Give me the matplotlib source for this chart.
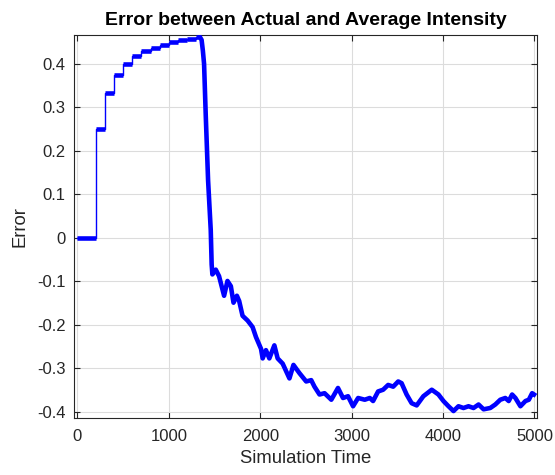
from matplotlib import pyplot as plt

# step phase: level held over each interval [start, end)
step_start = [0, 200, 300, 400, 500, 600, 700, 800, 900, 1000, 1100, 1200, 1300]
step_end = [200, 300, 400, 500, 600, 700, 800, 900, 1000, 1100, 1200, 1300, 1340]
step_level = [0, 0.25, 0.333, 0.375, 0.4, 0.417, 0.429, 0.4375, 0.444, 0.45, 0.4545, 0.458, 0.4615]

# drop + noisy tail
tail_t = [1340, 1358, 1372, 1385, 1403, 1429, 1458, 1468, 1476, 1513, 1549, 1604, 1641,
          1678, 1707, 1744, 1769, 1806, 1861, 1916, 1953, 2008, 2026, 2062, 2099, 2154,
          2190, 2245, 2319, 2363, 2429, 2502, 2557, 2593, 2648, 2703, 2777, 2850, 2905,
          2960, 3015, 3070, 3143, 3198, 3234, 3289, 3344, 3399, 3454, 3509, 3546, 3601,
          3656, 3711, 3784, 3876, 3949, 4004, 4059, 4114, 4168, 4223, 4278, 4333, 4388,
          4443, 4516, 4571, 4626, 4681, 4718, 4755, 4791, 4846, 4901, 4938, 4974, 4995]
tail_err = [0.4615, 0.455, 0.43, 0.40, 0.284, 0.132, 0.018, -0.061, -0.084, -0.073, -0.088,
            -0.133, -0.099, -0.111, -0.149, -0.133, -0.145, -0.179, -0.190, -0.205, -0.228,
            -0.255, -0.277, -0.258, -0.277, -0.247, -0.277, -0.289, -0.323, -0.292, -0.311,
            -0.330, -0.327, -0.342, -0.360, -0.357, -0.372, -0.345, -0.368, -0.364, -0.387,
            -0.368, -0.372, -0.368, -0.375, -0.353, -0.349, -0.338, -0.342, -0.330, -0.334,
            -0.360, -0.380, -0.385, -0.364, -0.349, -0.360, -0.375, -0.387, -0.398, -0.387,
            -0.391, -0.387, -0.391, -0.383, -0.394, -0.391, -0.383, -0.372, -0.368, -0.375,
            -0.360, -0.368, -0.387, -0.375, -0.372, -0.357, -0.360]

plt.rcParams['font.family'] = ['Liberation Sans', 'DejaVu Sans']
blue = (0, 0, 1)
dark = '#262626'

fig = plt.figure(figsize=(5.55, 4.75), dpi=100)
ax = fig.add_axes([0.133, 0.12, 0.835, 0.806])

# thin connecting line for the staircase
sx, sy = [], []
for a, b, v in zip(step_start, step_end, step_level):
    sx += [a, b]
    sy += [v, v]
ax.plot(sx, sy, color=blue, lw=1.0, zorder=3)
ax.hlines(step_level, step_start, step_end, color=blue, lw=3.3, zorder=3)
ax.plot(tail_t, tail_err, color=blue, lw=3.3, solid_joinstyle='round', zorder=3)

ax.set_xlim(-40, 5030)
ax.set_ylim(-0.414, 0.466)
ax.set_xticks([0, 1000, 2000, 3000, 4000, 5000])
ax.set_yticks([-0.4, -0.3, -0.2, -0.1, 0, 0.1, 0.2, 0.3, 0.4])
ax.set_yticklabels(['-0.4', '-0.3', '-0.2', '-0.1', '0', '0.1', '0.2', '0.3', '0.4'])
ax.grid(True, color='#dcdcdc', lw=0.8)
ax.set_axisbelow(True)
ax.tick_params(direction='in', top=True, right=True, length=4, colors=dark,
               labelsize=12, labelcolor=dark)
ax.tick_params(axis='x', pad=8)
ax.tick_params(axis='y', pad=6)
for s in ax.spines.values():
    s.set_color(dark)
    s.set_linewidth(0.8)

ax.set_xlabel("Simulation Time", fontsize=13.3, color=dark, labelpad=4)
ax.set_ylabel("Error", fontsize=13.3, color=dark, labelpad=6)
ax.set_title("Error between Actual and Average Intensity", fontsize=14, fontweight='bold', pad=7)

plt.savefig("out.png")
plt.close()
